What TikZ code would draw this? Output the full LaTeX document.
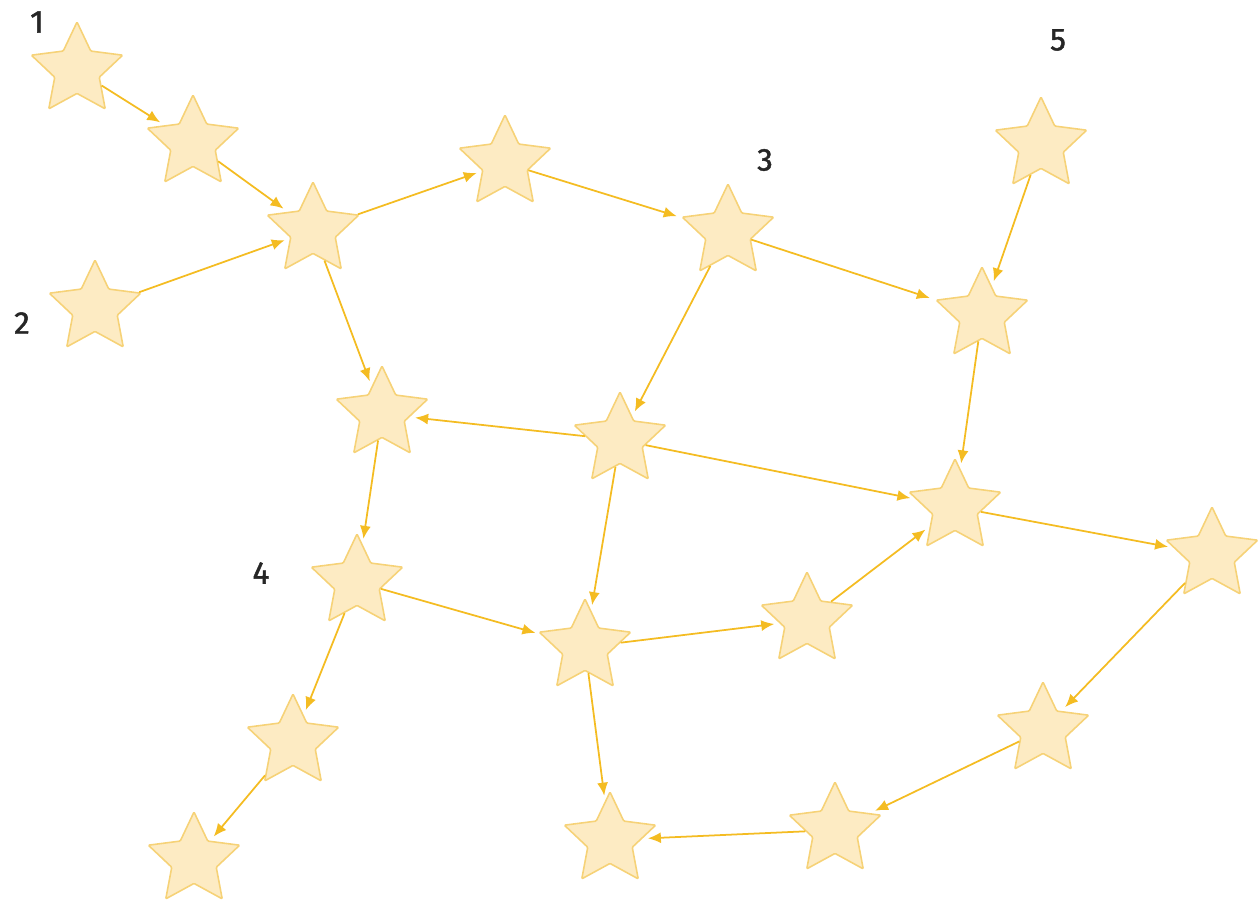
\documentclass[tikz,border=0pt]{standalone}
\usepackage{fontspec}
\newfontfamily\numfont{Fira Sans}[FakeBold=1.4]
\usetikzlibrary{shapes.geometric,arrows.meta}
\definecolor{starfill}{HTML}{FDEBC3}
\definecolor{starline}{HTML}{F6D277}
\definecolor{linkcol}{HTML}{F4BC22}
\tikzset{
  stern/.style={star,star points=5,star point ratio=2.05,minimum size=1.92cm,inner sep=0pt,
    draw=starline,fill=starfill,line width=0.9pt,rounded corners=0.6pt},
  link/.style={draw=linkcol,line width=1pt,-{Latex[length=2.6mm,width=2.2mm]},shorten >=3pt},
  nummer/.style={font=\numfont\fontsize{18}{20}\selectfont,text=black!85}
}
\begin{document}
\begin{tikzpicture}[x=0.02cm,y=-0.02cm]
\useasboundingbox (0,0) rectangle (1260,904);

\node[stern] (s1) at (77,70) {};
\node[stern] (s2) at (193,143) {};
\node[stern] (s3) at (313,230) {};
\node[stern] (s4) at (95,308) {};
\node[stern] (s5) at (505,163) {};
\node[stern] (s6) at (728,232) {};
\node[stern] (s7) at (1041,145) {};
\node[stern] (s8) at (982,315) {};
\node[stern] (s9) at (382,414) {};
\node[stern] (s10) at (620,440) {};
\node[stern] (s11) at (955,507) {};
\node[stern] (s12) at (357,582) {};
\node[stern] (s13) at (585,647) {};
\node[stern] (s14) at (807,620) {};
\node[stern] (s15) at (1212,555) {};
\node[stern] (s16) at (293,742) {};
\node[stern] (s17) at (1043,730) {};
\node[stern] (s18) at (194,860) {};
\node[stern] (s19) at (610,840) {};
\node[stern] (s20) at (835,830) {};

\node[nummer] (n1) at (37,22) {1};
\node[nummer] (n2) at (22,323) {2};
\node[nummer] (n3) at (765,160) {3};
\node[nummer] (n4) at (261,573) {4};
\node[nummer] (n5) at (1058,40) {5};

\draw[link] (s1) -- (s2);
\draw[link] (s2) -- (s3);
\draw[link] (s4) -- (s3);
\draw[link] (s3) -- (s5);
\draw[link] (s5) -- (s6);
\draw[link] (s6) -- (s8);
\draw[link] (s7) -- (s8);
\draw[link] (s6) -- (s10);
\draw[link] (s3) -- (s9);
\draw[link] (s10) -- (s9);
\draw[link] (s10) -- (s11);
\draw[link] (s8) -- (s11);
\draw[link] (s9) -- (s12);
\draw[link] (s10) -- (s13);
\draw[link] (s12) -- (s13);
\draw[link] (s13) -- (s14);
\draw[link] (s14) -- (s11);
\draw[link] (s11) -- (s15);
\draw[link] (s15) -- (s17);
\draw[link] (s17) -- (s20);
\draw[link] (s20) -- (s19);
\draw[link] (s13) -- (s19);
\draw[link] (s12) -- (s16);
\draw[link] (s16) -- (s18);
\end{tikzpicture}
\end{document}
